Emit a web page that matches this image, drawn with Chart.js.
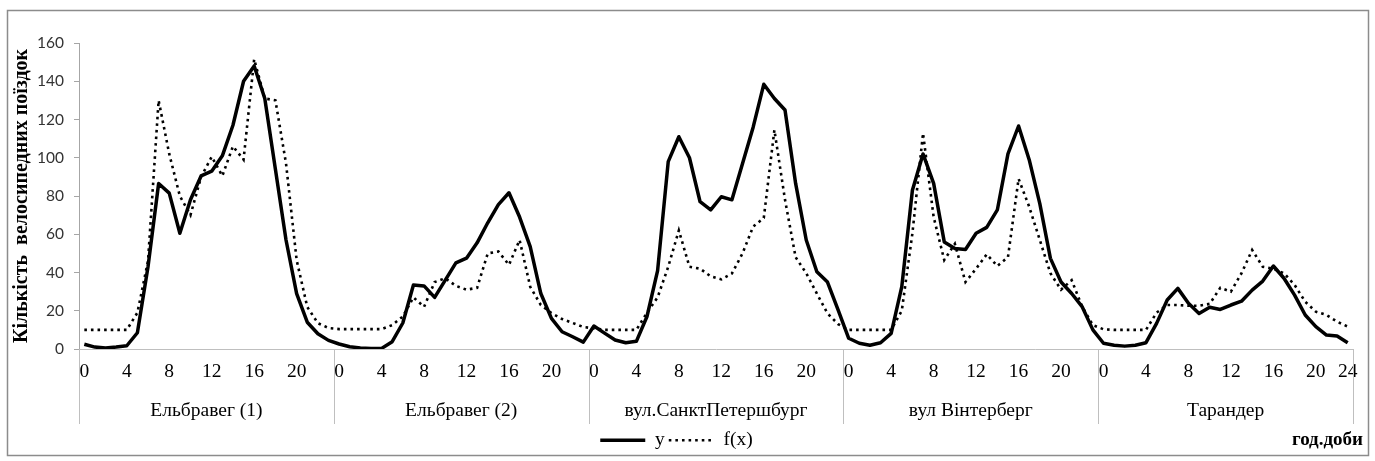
<!DOCTYPE html>
<html>
<head>
<meta charset="utf-8">
<script src="https://cdn.jsdelivr.net/npm/chart.js@4/dist/chart.umd.min.js"></script>
<style>
  body { margin: 0; background: #fff; }
  #wrap { width: 1375px; height: 461px; }
</style>
</head>
<body>
<div id="wrap"><canvas id="chart"></canvas></div>
<script>
// groups of hourly counts
var groups = ["Ельбравег (1)", "Ельбравег (2)", "вул.СанктПетершбург", "вул Вінтерберг", "Тарандер"];
var hours = [0,1,2,3,4,5,6,7,8,9,10,11,12,13,14,15,16,17,18,19,20,21,22,23];
var hoursLast = [0,1,2,3,4,5,6,7,8,9,10,11,12,13,14,15,16,17,18,19,20,21,22,24];

var yElb1 = [2.5, 1, 0.5, 1, 1.7, 8.5, 43, 86.5, 81.5, 60.5, 78, 90.5, 93, 101, 117, 140, 148, 131, 94, 57, 29, 14, 8, 4.5];
var yElb2 = [2.6, 1.2, 0.5, 0.3, 0.3, 3.8, 13.6, 33.5, 33, 27, 36, 45, 47.5, 55.5, 66, 75.5, 81.7, 69, 53.5, 29, 16, 9, 6.4, 3.6];
var ySpb = [12, 8.3, 4.7, 3.3, 4, 17, 41, 98, 111, 100, 77, 72.7, 79.6, 78, 97, 116, 138.4, 131, 125, 86.6, 57, 40.4, 35, 20.4];
var yWint = [5.6, 3, 2, 3.3, 8.2, 32.6, 83, 102, 86.6, 56, 52.6, 52, 60.5, 63.6, 72.7, 102, 116.6, 99, 76, 47.4, 35, 29, 22, 10];
var yTar = [3, 2, 1.5, 2, 3.3, 13.4, 25.6, 31.7, 23.9, 18.6, 21.8, 20.7, 23, 25, 30.8, 35.5, 43.4, 37, 28.2, 17.8, 11.7, 7.3, 6.8, 3.3];

var fElb1 = [10, 10, 10, 10, 10, 19, 46, 130, 102, 80, 70, 90, 100.5, 90.5, 106, 99, 151.5, 131, 130, 97, 46.5, 22, 13.5, 11];
var fElb2 = [10.4, 10.4, 10.4, 10.4, 10.4, 12.5, 17, 27, 22, 35, 37, 33, 31, 32, 50, 51, 44, 57, 32.6, 23, 18.8, 15.7, 13.6, 11.5];
var fSpb = [10.8, 10, 10, 10, 10, 19, 27, 43, 62, 43, 42, 38, 36.4, 39.5, 50, 64, 68.5, 114.5, 78, 48, 39.6, 29, 18.6, 13];
var fWint = [10, 10, 10, 10, 10, 20, 60.5, 112.8, 69, 46.5, 55, 35, 42, 49.5, 43.4, 48, 89, 74.4, 57, 39.6, 31, 36, 22, 12.5];
var fTar = [10.3, 10, 10, 10, 10, 19, 23, 23, 22.6, 22.6, 23.6, 32, 30, 39.6, 51.8, 43, 42, 39.6, 33.5, 24.7, 19.5, 17.8, 14.3, 11.7];

var groupHours = [hours, hours, hours, hours, hoursLast];
var labels = [].concat.apply([], groupHours);
var yData = [].concat(yElb1, yElb2, ySpb, yWint, yTar);
var fData = [].concat(fElb1, fElb2, fSpb, fWint, fTar);

var serif = "'Liberation Serif', 'Times New Roman', serif";

// frame, second category row and the axis name at the bottom right
var frameAndGroups = {
  id: "frameAndGroups",
  beforeDraw: function (chart) {
    var ctx = chart.ctx;
    ctx.save();
    ctx.fillStyle = "#fff";
    ctx.fillRect(0, 0, chart.width, chart.height);
    ctx.restore();
  },
  afterDraw: function (chart) {
    var ctx = chart.ctx;
    var x = chart.scales.x;
    var axisY = chart.chartArea.bottom;
    ctx.save();
    ctx.strokeStyle = "#bfbfbf";
    ctx.lineWidth = 1;
    var start = 0;
    var edges = [x.getPixelForValue(-0.5)];
    groupHours.forEach(function (h) {
      start += h.length;
      edges.push(x.getPixelForValue(start - 0.5));
    });
    edges.forEach(function (px) {
      var p = Math.round(px) + 0.5;
      ctx.beginPath();
      ctx.moveTo(p, axisY);
      ctx.lineTo(p, axisY + 75);
      ctx.stroke();
    });
    ctx.fillStyle = "#000";
    ctx.font = "19.5px " + serif;
    ctx.textAlign = "center";
    ctx.textBaseline = "middle";
    groups.forEach(function (name, i) {
      ctx.fillText(name, (edges[i] + edges[i + 1]) / 2, axisY + 62);
    });
    ctx.font = "bold 19px " + serif;
    ctx.textAlign = "right";
    ctx.fillText("год.доби", 1363, 440);
    ctx.strokeStyle = "#8c8c8c";
    ctx.lineWidth = 1.5;
    ctx.strokeRect(7.5, 10.5, 1361, 445);
    ctx.restore();
  }
};

var chart = new Chart(document.getElementById("chart"), {
  type: "line",
  data: {
    labels: labels,
    datasets: [
      {
        label: "y",
        data: yData,
        borderColor: "#000",
        backgroundColor: "#000",
        borderWidth: 3.5,
        borderJoinStyle: "round",
        pointRadius: 0,
        tension: 0,
        fill: false,
      },
      {
        label: "f(x)",
        data: fData,
        borderColor: "#000",
        backgroundColor: "#000",
        borderWidth: 2.6,
        borderDash: [2.6, 4],
        pointRadius: 0,
        tension: 0,
        fill: false,
      },
    ],
  },
  options: {
    responsive: true,
    maintainAspectRatio: false,
    animation: false,
    layout: { padding: { top: 43, right: 22, bottom: 1, left: 0 } },
    plugins: {
      tooltip: { enabled: false },
      legend: {
        position: "bottom",
        labels: {
          usePointStyle: true,
          pointStyle: "line",
          pointStyleWidth: 45,
          padding: 4,
          color: "#000",
          font: { family: serif, size: 19.5 },
          generateLabels: function (chart) {
            var items = Chart.defaults.plugins.legend.labels.generateLabels(chart);
            items.forEach(function (item) {
              var ds = chart.data.datasets[item.datasetIndex];
              item.lineWidth = ds.borderWidth;
              item.lineDash = ds.borderDash || [];
            });
            return items;
          },
        },
      },
    },
    scales: {
      x: {
        type: "category",
        offset: true,
        grid: { display: false, drawTicks: false },
        border: { display: true, color: "#bfbfbf" },
        ticks: {
          autoSkip: false,
          maxRotation: 0,
          padding: 11,
          color: "#000",
          font: { family: serif, size: 19.5 },
          callback: function (value, index) {
            var h = labels[index];
            return h % 4 === 0 ? String(h) : "";
          },
        },
        afterFit: function (scale) {
          scale.height = 77.5;
        },
      },
      y: {
        min: 0,
        max: 160,
        ticks: {
          stepSize: 20,
          padding: 10,
          color: "#333",
          font: { family: "Lato, 'Open Sans', sans-serif", size: 15.5 },
        },
        grid: { drawOnChartArea: false, drawTicks: true, tickLength: 5, color: "#a6a6a6" },
        border: { display: true, color: "#a6a6a6" },
        title: {
          display: true,
          text: "Кількість  велосипедних поїздок",
          color: "#000",
          padding: { top: 10, bottom: 0 },
          font: { family: serif, size: 20, weight: "bold" },
        },
        afterFit: function (scale) {
          scale.width = 79;
        },
      },
    },
  },
  plugins: [frameAndGroups],
});
</script>
</body>
</html>
